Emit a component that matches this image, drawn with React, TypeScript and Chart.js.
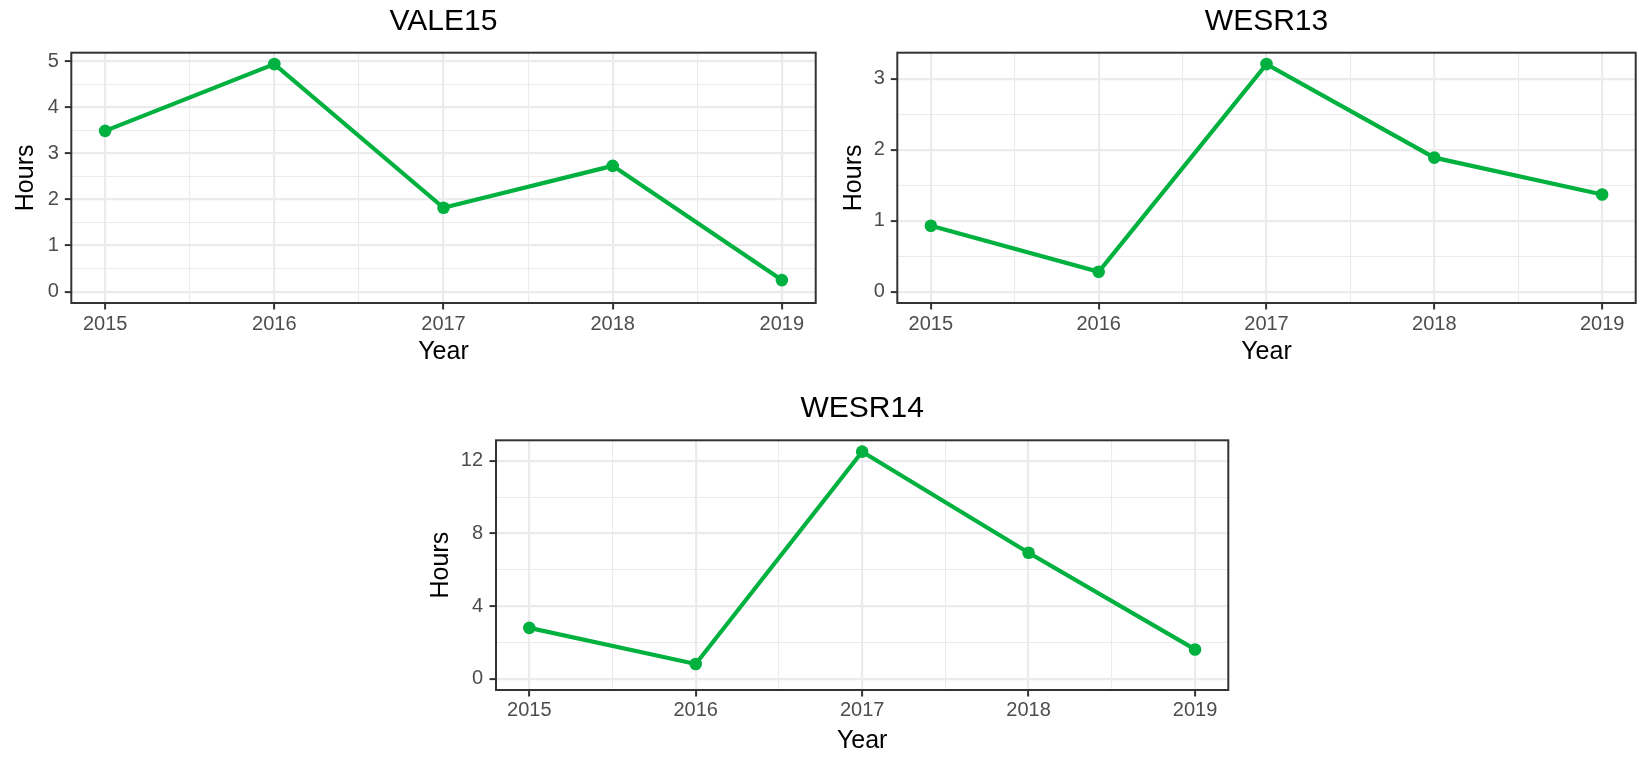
import React, { useEffect, useRef } from 'react';
import { Chart, registerables } from 'chart.js';

Chart.register(...registerables);

// ---- Data ----
const years = [2015, 2016, 2017, 2018, 2019];
const vale15Hours = [3.49, 4.94, 1.82, 2.73, 0.25];
const wesr13Hours = [0.93, 0.28, 3.21, 1.89, 1.37];
const wesr14Hours = [2.8, 0.81, 12.51, 6.94, 1.61];

// ---- Tick labels ----
const xTickYears = [2015, 2016, 2017, 2018, 2019];
const vale15YTicks = [0, 1, 2, 3, 4, 5];
const wesr13YTicks = [0, 1, 2, 3];
const wesr14YTicks = [0, 4, 8, 12];

const panelTitles = ['VALE15', 'WESR13', 'WESR14'];
const xAxisTitle = 'Year';
const yAxisTitle = 'Hours';

// ---- Styles ----
const GREEN = '#00B140';
const GRID = '#EBEBEB';
const DARK = '#333333';
const TICK_TEXT = '#4D4D4D';
const FONT = "'Liberation Sans', Arial, sans-serif";

type Spec = {
  title: string;
  values: number[];
  yTicks: number[];
  left: number;
  top: number;
  width: number;
  height: number;
  yAxisW: number;
  xAxisH: number;
  rightPad: number;
  titlePadTop: number;
  titlePadBottom: number;
  yTitlePad: number;
  xTitlePad: number;
  xTickPad: number;
  yTickPad: number;
};

const specs: Spec[] = [
  {
    title: panelTitles[0], values: vale15Hours, yTicks: vale15YTicks,
    left: 0, top: 0, width: 826, height: 380,
    yAxisW: 71.3, xAxisH: 77, rightPad: 10.3,
    titlePadTop: 4.2, titlePadBottom: 12.5, yTitlePad: 11.5, xTitlePad: 13,
    xTickPad: 2.5, yTickPad: 6,
  },
  {
    title: panelTitles[1], values: wesr13Hours, yTicks: wesr13YTicks,
    left: 826, top: 0, width: 816, height: 380,
    yAxisW: 71.3, xAxisH: 77, rightPad: 1,
    titlePadTop: 4.2, titlePadBottom: 12.5, yTitlePad: 13, xTitlePad: 13,
    xTickPad: 2.5, yTickPad: 6,
  },
  {
    title: panelTitles[2], values: wesr14Hours, yTicks: wesr14YTicks,
    left: 400, top: 380, width: 842, height: 379,
    yAxisW: 96, xAxisH: 69, rightPad: 13.7,
    titlePadTop: 11.2, titlePadBottom: 13.1, yTitlePad: 26.3, xTitlePad: 3.3,
    xTickPad: 2.3, yTickPad: 6.5,
  },
];

function withMinor(major: number[]): number[] {
  const out: number[] = [];
  major.forEach((v, i) => {
    out.push(v);
    if (i < major.length - 1) out.push((v + major[i + 1]) / 2);
  });
  return out;
}

function isIn(list: number[], v: number | undefined): boolean {
  if (v === undefined || v === null) return false;
  return list.some((m) => Math.abs(m - v) < 1e-9);
}

const panelBorder = {
  id: 'panelBorder',
  afterDraw(chart: any) {
    const { ctx, chartArea } = chart;
    const { left, top, right, bottom } = chartArea;
    ctx.save();
    ctx.strokeStyle = DARK;
    ctx.lineWidth = 2;
    ctx.strokeRect(left, top, right - left, bottom - top);
    ctx.restore();
  },
};

function Panel({ spec }: { spec: Spec }) {
  const ref = useRef<HTMLCanvasElement>(null);

  useEffect(() => {
    if (!ref.current) return;
    const ymaxData = Math.max(...spec.values);
    const yMin = -0.05 * ymaxData;
    const yMax = ymaxData * 1.05;
    const xSpan = years[years.length - 1] - years[0];
    const xMin = years[0] - 0.05 * xSpan;
    const xMax = years[years.length - 1] + 0.05 * xSpan;
    const xAll = withMinor(xTickYears);
    const yAll = withMinor(spec.yTicks);

    const chart = new Chart(ref.current, {
      type: 'line',
      data: {
        datasets: [
          {
            data: years.map((x, i) => ({ x, y: spec.values[i] })),
            borderColor: GREEN,
            backgroundColor: GREEN,
            borderWidth: 4.2,
            pointRadius: 6.3,
            pointHoverRadius: 6.3,
            pointBackgroundColor: GREEN,
            pointBorderColor: GREEN,
            pointBorderWidth: 0,
            tension: 0,
            fill: false,
          },
        ],
      },
      options: {
        animation: false,
        responsive: false,
        devicePixelRatio: 1,
        events: [],
        layout: { padding: { left: 0, top: 0, right: spec.rightPad, bottom: 0 } },
        plugins: {
          legend: { display: false },
          tooltip: { enabled: false },
          title: {
            display: true,
            text: spec.title,
            fullSize: false,
            align: 'center',
            color: '#000000',
            font: { family: FONT, size: 30, weight: 'normal', lineHeight: 1.2 },
            padding: { top: spec.titlePadTop, bottom: spec.titlePadBottom },
          },
        },
        scales: {
          x: {
            type: 'linear',
            position: 'bottom',
            min: xMin,
            max: xMax,
            bounds: 'data',
            afterBuildTicks: (axis: any) => {
              axis.ticks = xAll.map((v) => ({ value: v }));
            },
            afterFit: (axis: any) => {
              axis.height = spec.xAxisH;
            },
            border: { display: false },
            grid: {
              color: GRID,
              lineWidth: (ctx: any) => (isIn(xTickYears, ctx.tick?.value) ? 2.2 : 1.1),
              drawTicks: true,
              tickLength: 6.5,
              tickColor: DARK,
              tickWidth: (ctx: any) => (isIn(xTickYears, ctx.tick?.value) ? 2 : 0),
            },
            ticks: {
              autoSkip: false,
              maxRotation: 0,
              minRotation: 0,
              padding: spec.xTickPad,
              color: TICK_TEXT,
              font: { family: FONT, size: 20, lineHeight: 1.2 },
              callback: (value: any) => (isIn(xTickYears, Number(value)) ? String(value) : ''),
            },
            title: {
              display: true,
              text: xAxisTitle,
              color: '#000000',
              font: { family: FONT, size: 25, lineHeight: 1.2 },
              padding: { top: 0, bottom: spec.xTitlePad },
            },
          },
          y: {
            type: 'linear',
            position: 'left',
            min: yMin,
            max: yMax,
            bounds: 'data',
            afterBuildTicks: (axis: any) => {
              axis.ticks = yAll.map((v) => ({ value: v }));
            },
            afterFit: (axis: any) => {
              axis.width = spec.yAxisW;
            },
            border: { display: false },
            grid: {
              color: GRID,
              lineWidth: (ctx: any) => (isIn(spec.yTicks, ctx.tick?.value) ? 2.2 : 1.1),
              drawTicks: true,
              tickLength: 6.5,
              tickColor: DARK,
              tickWidth: (ctx: any) => (isIn(spec.yTicks, ctx.tick?.value) ? 2 : 0),
            },
            ticks: {
              autoSkip: false,
              padding: spec.yTickPad,
              color: TICK_TEXT,
              font: { family: FONT, size: 20, lineHeight: 1.2 },
              callback: (value: any) => (isIn(spec.yTicks, Number(value)) ? String(value) : ''),
            },
            title: {
              display: true,
              text: yAxisTitle,
              color: '#000000',
              font: { family: FONT, size: 25, lineHeight: 1.2 },
              padding: { top: spec.yTitlePad, bottom: 0 },
            },
          },
        },
      } as any,
      plugins: [panelBorder],
    });
    return () => chart.destroy();
  }, [spec]);

  return (
    <canvas
      ref={ref}
      width={spec.width}
      height={spec.height}
      style={{
        position: 'absolute',
        left: spec.left,
        top: spec.top,
        width: spec.width,
        height: spec.height,
      }}
    />
  );
}

export default function App() {
  return (
    <div
      style={{
        position: 'absolute',
        left: 0,
        top: 0,
        width: 1642,
        height: 759,
        background: '#FFFFFF',
        overflow: 'hidden',
      }}
    >
      {specs.map((s) => (
        <Panel key={s.title} spec={s} />
      ))}
    </div>
  );
}
